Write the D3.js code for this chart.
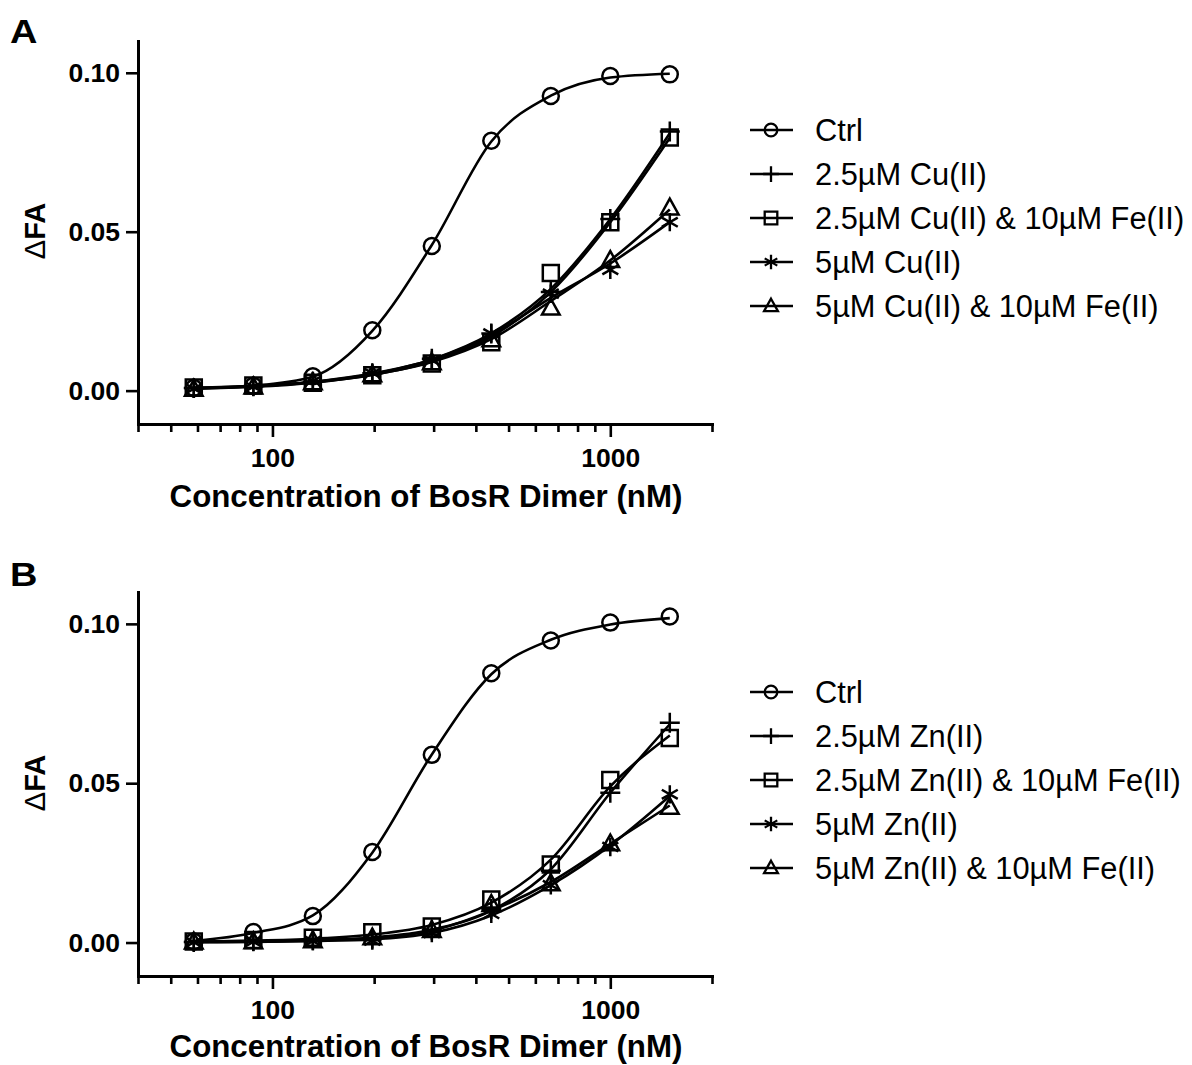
<!DOCTYPE html>
<html>
<head>
<meta charset="utf-8">
<script src="https://cdn.jsdelivr.net/npm/d3@7"></script>
<style>
  body { margin: 0; background: #fff; }
  svg { display: block; }
  text { font-family: "Liberation Sans", Arial, Helvetica, sans-serif; fill: #000; }
</style>
</head>
<body>
<div id="chart"></div>
<script>
// BosR dimer concentrations (nM), 1.5-fold dilution series
const conc = [58.5, 87.8, 131.7, 197.5, 296.3, 444.4, 666.7, 1000, 1500];

// panel A - Cu(II), measured points
const ctrlA    = [0.0008, 0.0015, 0.0045, 0.0190, 0.0455, 0.0786, 0.0927, 0.0990, 0.0995];
const cu25     = [0.0008, 0.0014, 0.0028, 0.0055, 0.0100, 0.0180, 0.0310, 0.0540, 0.0815];
const cu25Fe   = [0.0010, 0.0016, 0.0025, 0.0048, 0.0085, 0.0152, 0.0370, 0.0530, 0.0796];
const cu5      = [0.0006, 0.0012, 0.0030, 0.0055, 0.0095, 0.0180, 0.0305, 0.0380, 0.0530];
const cu5Fe    = [0.0005, 0.0012, 0.0025, 0.0050, 0.0088, 0.0160, 0.0260, 0.0410, 0.0575];
// panel A - fitted curves, read at the same concentrations
const ctrlAFit  = [0.0008, 0.0016, 0.0044, 0.0188, 0.0458, 0.0784, 0.0928, 0.0985, 0.0997];
const cu25Fit   = [0.0008, 0.0014, 0.0027, 0.0052, 0.0098, 0.0180, 0.0320, 0.0540, 0.0810];
const cu25FeFit = [0.0009, 0.0015, 0.0026, 0.0049, 0.0092, 0.0170, 0.0310, 0.0530, 0.0795];
const cu5Fit    = [0.0007, 0.0013, 0.0028, 0.0054, 0.0097, 0.0175, 0.0292, 0.0400, 0.0530];
const cu5FeFit  = [0.0006, 0.0012, 0.0025, 0.0050, 0.0090, 0.0162, 0.0282, 0.0410, 0.0570];

// panel B - Zn(II), measured points
const ctrlB    = [0.0003, 0.0033, 0.0083, 0.0284, 0.0589, 0.0845, 0.0948, 0.1004, 0.1023];
const zn25     = [0.0002, 0.0004, 0.0007, 0.0013, 0.0040, 0.0105, 0.0225, 0.0470, 0.0690];
const zn25Fe   = [0.0003, 0.0008, 0.0015, 0.0032, 0.0050, 0.0135, 0.0245, 0.0510, 0.0642];
const zn5      = [0.0001, 0.0002, 0.0005, 0.0006, 0.0030, 0.0090, 0.0180, 0.0300, 0.0465];
const zn5Fe    = [0.0002, 0.0003, 0.0006, 0.0015, 0.0038, 0.0120, 0.0185, 0.0310, 0.0425];
// panel B - fitted curves
const ctrlBFit  = [0.0005, 0.0030, 0.0085, 0.0282, 0.0590, 0.0842, 0.0950, 0.0998, 0.1018];
const zn25Fit   = [0.0002, 0.0004, 0.0008, 0.0016, 0.0040, 0.0100, 0.0230, 0.0470, 0.0685];
const zn25FeFit = [0.0003, 0.0006, 0.0012, 0.0025, 0.0055, 0.0125, 0.0260, 0.0490, 0.0650];
const zn5Fit    = [0.0001, 0.0002, 0.0005, 0.0010, 0.0030, 0.0085, 0.0180, 0.0305, 0.0460];
const zn5FeFit  = [0.0002, 0.0003, 0.0006, 0.0014, 0.0037, 0.0100, 0.0190, 0.0310, 0.0430];

const labelsA = ["Ctrl", "2.5µM Cu(II)", "2.5µM Cu(II) & 10µM Fe(II)", "5µM Cu(II)", "5µM Cu(II) & 10µM Fe(II)"];
const labelsB = ["Ctrl", "2.5µM Zn(II)", "2.5µM Zn(II) & 10µM Fe(II)", "5µM Zn(II)", "5µM Zn(II) & 10µM Fe(II)"];
const markers = ["circle", "plus", "square", "asterisk", "triangle"];

const xMajor = [100, 1000];
const xMinor = [40, 50, 60, 70, 80, 90, 200, 300, 400, 500, 600, 700, 800, 900, 2000];
const yTicks = [0, 0.05, 0.10];

const W = 1192, H = 1065;

const svg = d3.select("#chart").append("svg")
    .attr("width", W)
    .attr("height", H);

const x = d3.scaleLog().domain([40, 2000]).range([138, 712]);

function addText(parent, px, py, txt, size, weight, anchor) {
    return parent.append("text")
        .attr("x", px)
        .attr("y", py)
        .attr("text-anchor", anchor || "start")
        .style("font-size", size + "px")
        .style("font-weight", weight || "normal")
        .text(txt);
}

// marker outlines, centered on 0,0
function markerPath(type, s) {
    const p = d3.path();
    if (type === "circle") {
        p.moveTo(s, 0);
        p.arc(0, 0, s, 0, 2 * Math.PI);
    } else if (type === "square") {
        p.rect(-s, -s, 2 * s, 2 * s);
    } else if (type === "plus") {
        const a = s * 1.25;
        p.moveTo(-a, 0); p.lineTo(a, 0);
        p.moveTo(0, -a); p.lineTo(0, a);
    } else if (type === "asterisk") {
        const a = s * 1.15;
        p.moveTo(0, -a); p.lineTo(0, a);
        const c = Math.cos(Math.PI / 6) * a, sn = Math.sin(Math.PI / 6) * a;
        p.moveTo(-c, -sn); p.lineTo(c, sn);
        p.moveTo(-c, sn); p.lineTo(c, -sn);
    } else if (type === "triangle") {
        const a = s * 1.1;
        p.moveTo(0, -a * 1.05);
        p.lineTo(a, a * 0.75);
        p.lineTo(-a, a * 0.75);
        p.closePath();
    }
    return p.toString();
}

function drawPanel(cfg) {
    const y = d3.scaleLinear().domain([-0.0105, 0.11]).range(cfg.yRange);
    const g = svg.append("g");
    const x0 = y.range()[0];

    // panel letter
    g.append("text")
        .attr("transform", `translate(10,${cfg.letterY}) scale(1.15,1)`)
        .style("font-size", "33px")
        .style("font-weight", "bold")
        .text(cfg.letter);

    // y axis
    const ya = g.append("g")
        .attr("transform", "translate(138,0)")
        .call(d3.axisLeft(y).tickValues(yTicks).tickSize(12).tickSizeOuter(0)
            .tickPadding(6).tickFormat(d3.format(".2f")));

    // x axis: minor then major ticks
    const xm = g.append("g")
        .attr("transform", `translate(0,${x0})`)
        .call(d3.axisBottom(x).tickValues(xMinor).tickSize(8).tickSizeOuter(0).tickFormat(""));
    xm.select(".domain").remove();
    const xa = g.append("g")
        .attr("transform", `translate(0,${x0})`)
        .call(d3.axisBottom(x).tickValues(xMajor).tickSize(13).tickSizeOuter(0)
            .tickPadding(11).tickFormat(d3.format("d")));

    [ya, xm, xa].forEach(a => {
        a.selectAll(".domain").attr("stroke-width", 3).attr("stroke-linecap", "square");
        a.selectAll(".tick line").attr("stroke-width", 2.6);
        a.selectAll("text")
            .style("font-size", "26.5px")
            .style("font-weight", "bold")
            .style("font-family", "'Liberation Sans', Arial, sans-serif");
    });

    // axis titles
    addText(g, 426, cfg.titleY, "Concentration of BosR Dimer (nM)", 31.3, "bold", "middle");
    const yt = g.append("text")
        .attr("transform", `translate(45,${cfg.yTitleY}) rotate(-90)`)
        .attr("text-anchor", "middle")
        .style("font-size", "29px")
        .style("font-weight", "bold");
    yt.append("tspan").style("font-weight", "normal").text("Δ");
    yt.append("tspan").text("FA");

    // fitted curves
    const line = d3.line()
        .x(d => x(d[0]))
        .y(d => y(d[1]))
        .curve(d3.curveMonotoneX);

    cfg.fits.forEach(vals => {
        g.append("path")
            .datum(conc.map((c, k) => [c, vals[k]]))
            .attr("d", line)
            .attr("fill", "none")
            .attr("stroke", "#000")
            .attr("stroke-width", 2.6);
    });

    // data points
    cfg.series.forEach((vals, i) => {
        g.selectAll(".m" + i)
            .data(conc.map((c, k) => [c, vals[k]]))
            .enter().append("path")
            .attr("class", "m" + i)
            .attr("transform", d => `translate(${x(d[0])},${y(d[1])})`)
            .attr("d", markerPath(markers[i], 8))
            .attr("fill", "none")
            .attr("stroke", "#000")
            .attr("stroke-width", 2.5);
    });

    // legend
    cfg.labels.forEach((lab, i) => {
        const ly = cfg.legendY + i * 44;
        g.append("line")
            .attr("x1", 750).attr("x2", 793)
            .attr("y1", ly).attr("y2", ly)
            .attr("stroke", "#000")
            .attr("stroke-width", 2.5);
        g.append("path")
            .attr("transform", `translate(771,${ly})`)
            .attr("d", markerPath(markers[i], 6.3))
            .attr("fill", "none")
            .attr("stroke", "#000")
            .attr("stroke-width", 2.3);
        addText(g, 815, ly, lab, 30.8, "normal").attr("dy", "0.36em");
    });
}

drawPanel({
    letter: "A", letterY: 43,
    yRange: [424, 41],
    titleY: 507, yTitleY: 231,
    series: [ctrlA, cu25, cu25Fe, cu5, cu5Fe],
    fits: [ctrlAFit, cu25Fit, cu25FeFit, cu5Fit, cu5FeFit],
    labels: labelsA,
    legendY: 130
});

drawPanel({
    letter: "B", letterY: 586,
    yRange: [976, 592],
    titleY: 1057, yTitleY: 783,
    series: [ctrlB, zn25, zn25Fe, zn5, zn5Fe],
    fits: [ctrlBFit, zn25Fit, zn25FeFit, zn5Fit, zn5FeFit],
    labels: labelsB,
    legendY: 692
});
</script>
</body>
</html>
